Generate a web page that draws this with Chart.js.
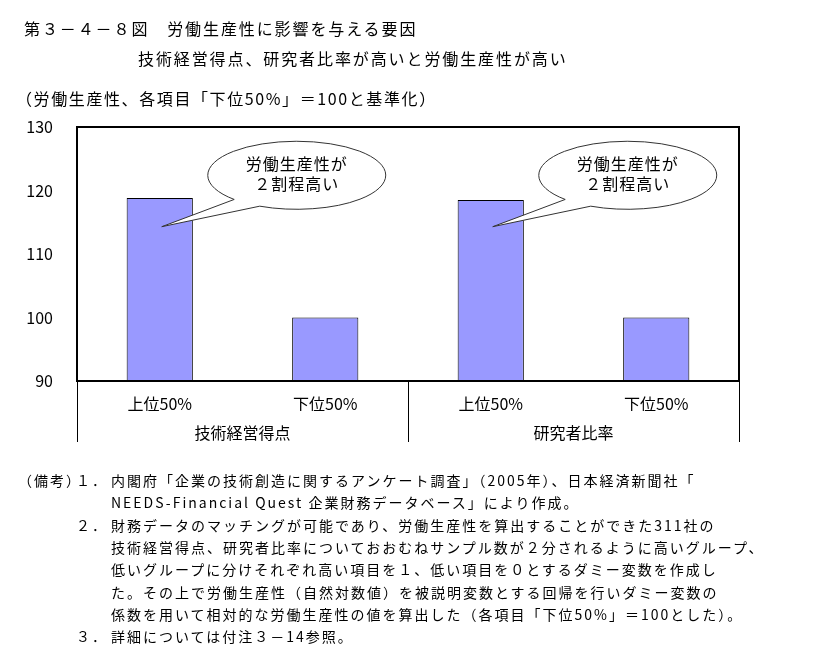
<!DOCTYPE html>
<html>
<head>
<meta charset="utf-8">
<script src="https://cdn.jsdelivr.net/npm/chart.js@4"></script>
<style>
  body { margin: 0; background: #fff; }
  #wrap { position: relative; width: 813px; height: 652px; overflow: hidden;
          font-family: 'Noto Sans CJK JP', sans-serif; color: #000; }
  #wrap canvas { position: absolute; left: 0; top: 0; }
  .t { position: absolute; white-space: nowrap; line-height: 20px; }
  .big { font-size: 16px; letter-spacing: 1.9px; }
  .note { font-size: 14px; letter-spacing: 2px; line-height: 20px; }
</style>
</head>
<body>
<div id="wrap">
  <canvas id="chart" width="813" height="652"></canvas>
  <div class="t big" style="left:24px; top:18px;">第３－４－８図　労働生産性に影響を与える要因</div>
  <div class="t big" style="left:138px; top:48px;">技術経営得点、研究者比率が高いと労働生産性が高い</div>
  <div class="t big" style="left:16px; top:88px; letter-spacing:1.6px;">（労働生産性、各項目「下位50%」＝100と基準化）</div>
  <div id="notes"></div>
</div>
<script>
// data
const groups = ['技術経営得点', '研究者比率'];
const categories = ['上位50%', '下位50%', '上位50%', '下位50%'];
const values = [118.8, 100, 118.5, 100];
const yTicks = [90, 100, 110, 120, 130];

// callouts: attached to bar index, tail value
const calloutBars = [0, 2];
const calloutTail = [114.3, 114.3];
const calloutCenter = [122.4, 122.4];
const calloutLines = ['労働生産性が', '２割程高い'];

const notes = [
    ['（備考）', '１．', '内閣府「企業の技術創造に関するアンケート調査」（2005年）、日本経済新聞社「'],
    ['', '', 'NEEDS-Financial Quest 企業財務データベース」により作成。'],
    ['', '２．', '財務データのマッチングが可能であり、労働生産性を算出することができた311社の'],
    ['', '', '技術経営得点、研究者比率についておおむねサンプル数が２分されるように高いグループ、'],
    ['', '', '低いグループに分けそれぞれ高い項目を１、低い項目を０とするダミー変数を作成し'],
    ['', '', 'た。その上で労働生産性（自然対数値）を被説明変数とする回帰を行いダミー変数の'],
    ['', '', '係数を用いて相対的な労働生産性の値を算出した（各項目「下位50%」＝100とした）。'],
    ['', '３．', '詳細については付注３－14参照。']
];

const notesEl = document.getElementById('notes');
notes.forEach((n, i) => {
    const top = 470 + i * 22.3;
    [[18, n[0]], [76, n[1]], [111, n[2]]].forEach(([x, s]) => {
        if (!s) return;
        const d = document.createElement('div');
        d.className = 't note';
        d.style.left = x + 'px';
        d.style.top = top + 'px';
        d.textContent = s;
        notesEl.appendChild(d);
    });
});

Chart.defaults.font.family = "'Noto Sans CJK JP', sans-serif";
Chart.defaults.color = '#000';

const decor = {
    id: 'decor',
    afterDraw(chart) {
        const ctx = chart.ctx;
        const a = chart.chartArea;
        const xs = chart.scales.x;
        const x2 = chart.scales.x2;
        ctx.save();
        // frame
        ctx.strokeStyle = '#000';
        ctx.lineWidth = 2;
        ctx.strokeRect(a.left, a.top, a.right - a.left, a.bottom - a.top);
        // group separators
        ctx.lineWidth = 1;
        const mid = (xs.getPixelForValue(1) + xs.getPixelForValue(2)) / 2;
        [a.left, mid, a.right].forEach(x => {
            ctx.beginPath();
            ctx.moveTo(Math.round(x) + 0.5, a.bottom);
            ctx.lineTo(Math.round(x) + 0.5, x2.top + 31);
            ctx.stroke();
        });
        // callouts
        const ys = chart.scales.y;
        calloutBars.forEach((bi, k) => {
            const tx = xs.getPixelForValue(bi) + 2;
            const ty = ys.getPixelForValue(calloutTail[k]);
            const cx = xs.getPixelForValue(bi) + 137;
            const cy = ys.getPixelForValue(calloutCenter[k]);
            const rx = 89, ry = 34;
            const a1 = 2.35, a2 = 2.0;
            ctx.beginPath();
            ctx.ellipse(cx, cy, rx, ry, 0, a1, a2 + Math.PI * 2 - 0.0001, false);
            ctx.lineTo(tx, ty);
            ctx.closePath();
            ctx.fillStyle = '#fff';
            ctx.fill();
            ctx.strokeStyle = '#333';
            ctx.lineWidth = 1;
            ctx.stroke();
            ctx.fillStyle = '#000';
            ctx.font = "16px 'Noto Sans CJK JP', sans-serif";
            ctx.letterSpacing = '1px';
            ctx.textAlign = 'center';
            ctx.textBaseline = 'middle';
            ctx.fillText(calloutLines[0], cx, cy - 11);
            ctx.fillText(calloutLines[1], cx, cy + 9);
        });
        ctx.restore();
    }
};

new Chart(document.getElementById('chart'), {
    type: 'bar',
    data: {
        labels: categories,
        datasets: [{
            data: values,
            backgroundColor: '#9999FF',
            borderColor: '#000',
            borderWidth: 1,
            barPercentage: 0.4,
            categoryPercentage: 1.0
        }]
    },
    options: {
        responsive: false,
        animation: false,
        layout: { padding: { left: 0, top: 127, right: 74, bottom: 201 } },
        plugins: { legend: { display: false }, tooltip: { enabled: false } },
        scales: {
            x: {
                grid: { display: false, drawTicks: false },
                border: { display: false },
                ticks: { font: { size: 16 }, padding: 13 },
                afterFit: s => { s.height = 30; }
            },
            x2: {
                type: 'category',
                position: 'bottom',
                labels: groups,
                offset: true,
                weight: 1,
                grid: { display: false, drawTicks: false },
                border: { display: false },
                ticks: { font: { size: 16 }, padding: 12 },
                afterFit: s => { s.height = 40; }
            },
            y: {
                min: 90,
                max: 130,
                grid: { display: false, drawTicks: false },
                border: { display: false },
                afterBuildTicks: s => { s.ticks = yTicks.map(v => ({ value: v })); },
                ticks: { font: { size: 16 }, padding: 24 },
                afterFit: s => { s.width = 77; }
            }
        }
    },
    plugins: [decor]
});
</script>
</body>
</html>
